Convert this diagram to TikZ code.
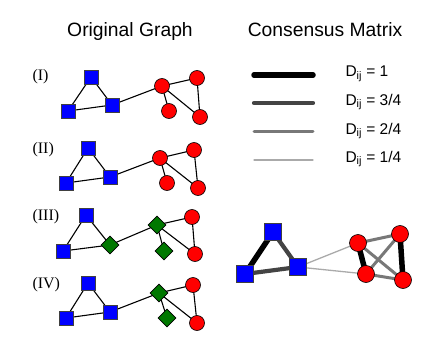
\documentclass[tikz,border=0pt]{standalone}
\usepackage{fontspec}
\setmainfont{Liberation Serif}
\setsansfont{Liberation Sans}
\usetikzlibrary{shapes.geometric,backgrounds}
\definecolor{sqblue}{RGB}{0,0,255}
\definecolor{cred}{RGB}{255,0,0}
\definecolor{dgreen}{RGB}{0,120,0}
\definecolor{dij3}{RGB}{68,68,68}
\definecolor{dij2}{RGB}{120,120,120}
\definecolor{dij1}{RGB}{170,170,170}
\begin{document}
\begin{tikzpicture}[x=1pt,y=-1pt,
  sq/.style={rectangle,draw=black!75,fill=sqblue,minimum size=14pt,inner sep=0pt,line width=0.6pt},
  cir/.style={circle,draw=black,fill=cred,minimum size=15pt,inner sep=0pt,line width=0.6pt},
  dia/.style={diamond,draw=black,fill=dgreen,minimum size=18pt,inner sep=0pt,line width=0.6pt},
  bsq/.style={sq,minimum size=17pt},
  bcir/.style={cir,minimum size=17pt},
  edge/.style={line width=1.1pt,black},
  wone/.style={line width=5.5pt,black,line cap=round},
  wthree/.style={line width=4.2pt,dij3,line cap=round},
  wtwo/.style={line width=3pt,dij2,line cap=round},
  wquarter/.style={line width=1.3pt,dij1,line cap=round},
  title/.style={font=\sffamily\fontsize{19.3}{23}\selectfont,anchor=base},
  rowlab/.style={font=\fontsize{16}{19}\selectfont,anchor=west},
  leglab/.style={font=\sffamily\fontsize{15.5}{18}\selectfont,anchor=base west}
]
\useasboundingbox (0,0) rectangle (439,345);

% titles
\node[title] (t1) at (130,37) {Original Graph};
\node[title] (t2) at (325,37) {Consensus Matrix};

% row labels
\node[rowlab] (l1) at (29,77) {(I)};
\node[rowlab] (l2) at (29,150) {(II)};
\node[rowlab] (l3) at (29,217) {(III)};
\node[rowlab] (l4) at (29,285) {(IV)};

% Row I
\node[sq] (a1) at (91,77) {};
\node[sq] (b1) at (68,111) {};
\node[sq] (r1) at (112,105) {};
\node[cir] (p1) at (162,86) {};
\node[cir] (q1) at (197,78) {};
\node[cir] (s1) at (169,111) {};
\node[cir] (u1) at (200,117) {};

% Row II
\node[sq] (a2) at (88,148) {};
\node[sq] (b2) at (66,183) {};
\node[sq] (r2) at (110,177) {};
\node[cir] (p2) at (160,158) {};
\node[cir] (q2) at (194,150) {};
\node[cir] (s2) at (167,183) {};
\node[cir] (u2) at (198,188) {};

% Row III
\node[sq] (a3) at (86,215) {};
\node[sq] (b3) at (63,251) {};
\node[dia] (r3) at (110,245) {};
\node[dia] (p3) at (157,225) {};
\node[cir] (q3) at (192,217) {};
\node[dia] (s3) at (164,251) {};
\node[cir] (u3) at (195,254) {};

% Row IV
\node[sq] (a4) at (88,283) {};
\node[sq] (b4) at (66,318) {};
\node[sq] (r4) at (110,312) {};
\node[dia] (p4) at (159,293) {};
\node[cir] (q4) at (193,285) {};
\node[dia] (s4) at (167,318) {};
\node[cir] (u4) at (197,323) {};

\begin{pgfonlayer}{background}
\foreach \i in {1,2,3,4}{
  \draw[edge] (a\i.center) -- (b\i.center);
  \draw[edge] (a\i.center) -- (r\i.center);
  \draw[edge] (b\i.center) -- (r\i.center);
  \draw[edge] (r\i.center) -- (p\i.center);
  \draw[edge] (p\i.center) -- (q\i.center);
  \draw[edge] (p\i.center) -- (s\i.center);
  \draw[edge] (p\i.center) -- (u\i.center);
  \draw[edge] (q\i.center) -- (u\i.center);
}
\end{pgfonlayer}

% legend
\coordinate (L1a) at (254,75);  \coordinate (L1b) at (313,75);
\coordinate (L2a) at (254,103); \coordinate (L2b) at (313,103);
\coordinate (L3a) at (254,131); \coordinate (L3b) at (313,131);
\coordinate (L4a) at (254,160); \coordinate (L4b) at (313,160);
\draw[wone] (L1a) -- (L1b);
\draw[wthree] (L2a) -- (L2b);
\draw[wtwo] (L3a) -- (L3b);
\draw[wquarter] (L4a) -- (L4b);
\node[leglab] (g1) at (342,77) {D\textsubscript{ij} = 1};
\node[leglab] (g2) at (342,105) {D\textsubscript{ij} = 3/4};
\node[leglab] (g3) at (342,134) {D\textsubscript{ij} = 2/4};
\node[leglab] (g4) at (342,162) {D\textsubscript{ij} = 1/4};

% consensus graph
\node[bsq] (CA) at (273,232) {};
\node[bsq] (CB) at (245,274) {};
\node[bsq] (CR) at (298,267) {};
\node[bcir] (C1) at (358,243) {};
\node[bcir] (C2) at (400,234) {};
\node[bcir] (C3) at (366,274) {};
\node[bcir] (C4) at (403,280) {};
\begin{pgfonlayer}{background}
\draw[wone] (CA.center) -- (CB.center);
\draw[wthree] (CA.center) -- (CR.center);
\draw[wthree] (CB.center) -- (CR.center);
\draw[wquarter] (CR.center) -- (C1.center);
\draw[wquarter] (CR.center) -- (C3.center);
\draw[wtwo] (C1.center) -- (C2.center);
\draw[wtwo] (C3.center) -- (C4.center);
\draw[wtwo] (C1.center) -- (C4.center);
\draw[wtwo] (C2.center) -- (C3.center);
\draw[wone] (C1.center) -- (C3.center);
\draw[wone] (C2.center) -- (C4.center);
\end{pgfonlayer}
\end{tikzpicture}
\end{document}
